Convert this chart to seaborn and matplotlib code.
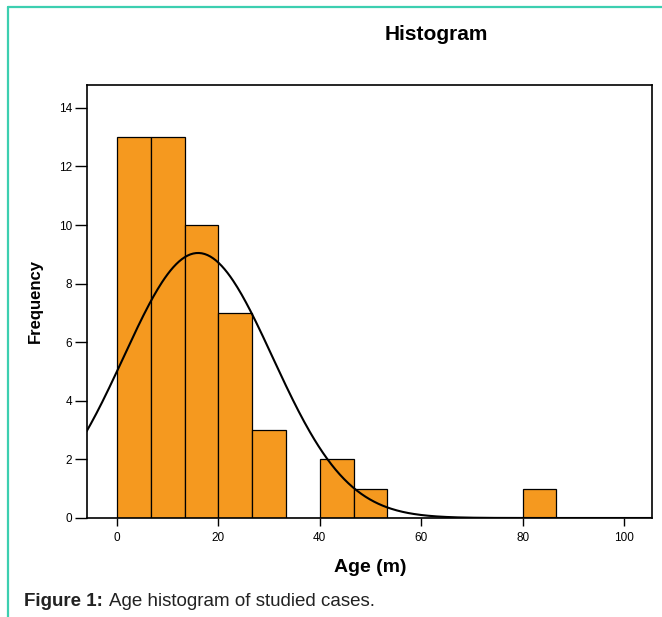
import matplotlib
matplotlib.use("Agg")
import matplotlib.pyplot as plt
import seaborn as sns
import numpy as np
import pandas as pd
from matplotlib.lines import Line2D

sns.set_style("ticks")
plt.rcParams['font.family'] = ['Liberation Sans', 'DejaVu Sans']
plt.rcParams['text.color'] = 'black'
plt.rcParams['xtick.color'] = 'black'
plt.rcParams['ytick.color'] = 'black'
plt.rcParams['axes.edgecolor'] = 'black'

# Age histogram counts, bins of 20/3 months starting at 0
bin_width = 20 / 3
bin_counts = [13, 13, 10, 7, 3, 0, 2, 1, 0, 0, 0, 0, 1]
fit_mean = 16.0   # fitted normal curve
fit_sd = 14.7

edges = np.arange(len(bin_counts) + 1) * bin_width
centers = edges[:-1] + bin_width / 2
df = pd.DataFrame({"age": centers, "count": bin_counts})
n_total = sum(bin_counts)

fig = plt.figure(figsize=(6.62, 6.17), dpi=100)
ax = fig.add_axes([87 / 662, 99 / 617, 565 / 662, 433 / 617])

sns.histplot(data=df, x="age", weights="count", binwidth=bin_width,
             binrange=(0, float(edges[-1])), ax=ax,
             color="#F5991F", edgecolor="black", linewidth=0.9, alpha=1)

# normal curve scaled to counts
xs = np.linspace(-6, 106, 400)
ys = n_total * bin_width / (fit_sd * np.sqrt(2 * np.pi)) * np.exp(-(xs - fit_mean) ** 2 / (2 * fit_sd ** 2))
sns.lineplot(x=xs, y=ys, ax=ax, color="black", linewidth=1.5)

ax.set_xlim(-5.9, 105.5)
ax.set_ylim(0, 14.78)
ax.set_xticks(range(0, 101, 20))
ax.set_yticks(range(0, 15, 2))
ax.tick_params(axis="y", length=8.5, width=1, labelsize=8.5, pad=2)
ax.tick_params(axis="x", length=6, width=1, labelsize=8.5, pad=4)
for s in ax.spines.values():
    s.set_linewidth(1.2)
ax.set_xlabel("")
ax.set_ylabel("")

fig.text(436 / 662, 1 - 34 / 617, "Histogram", ha="center", va="center",
         fontsize=15, fontweight="bold")
fig.text(35 / 662, 1 - 301 / 617, "Frequency", ha="center", va="center",
         rotation=90, fontsize=12, fontweight="bold")
fig.text(370 / 662, 1 - 567 / 617, "Age (m)", ha="center", va="center",
         fontsize=14, fontweight="bold")
cap = "#222222"
fig.text(24 / 662, 1 - 601 / 617, "Figure 1:", ha="left", va="center",
         fontsize=13.5, fontweight="bold", color=cap)
fig.text(109 / 662, 1 - 601 / 617, "Age histogram of studied cases.", ha="left",
         va="center", fontsize=13.5, color=cap)

# teal frame on top and left edge
teal = "#3CCFB0"
fig.add_artist(Line2D([8 / 662, 8 / 662], [0, 1 - 7 / 617], transform=fig.transFigure,
                      color=teal, linewidth=1.6))
fig.add_artist(Line2D([8 / 662, 1], [1 - 7 / 617, 1 - 7 / 617], transform=fig.transFigure,
                      color=teal, linewidth=1.6))

fig.savefig("out.png", dpi=100)
